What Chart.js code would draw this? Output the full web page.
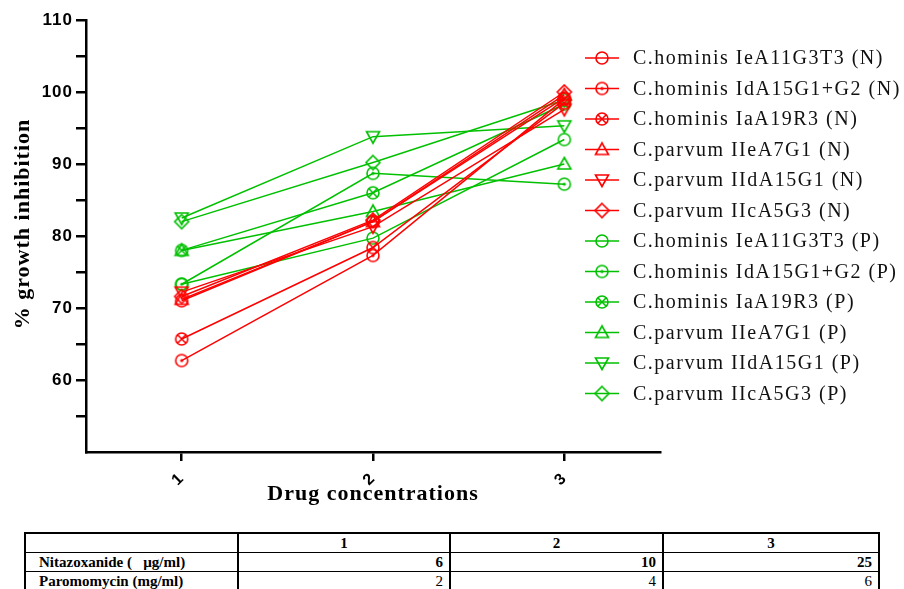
<!DOCTYPE html>
<html>
<head>
<meta charset="utf-8">
<script src="https://cdn.jsdelivr.net/npm/chart.js@4.4.1/dist/chart.umd.min.js"></script>
<style>
  body { margin: 0; background: #fff; width: 904px; height: 589px; overflow: hidden; position: relative; }
  #wrap { position: absolute; left: 0; top: 0; width: 904px; height: 525px; }
  #doses { position: absolute; left: 24px; top: 532px; width: 854px; table-layout: fixed; border-collapse: collapse; border: 2px solid #000; }
  #doses td { font-family: "Liberation Serif", serif; font-size: 15px; color: #000; border: 1px solid #000; border-left-width: 2px; height: 18px; line-height: 18px; padding: 0 6px 0 13px; font-weight: bold; white-space: nowrap; overflow: hidden; }
</style>
</head>
<body>
<div id="wrap"><canvas id="grafik" width="904" height="525"></canvas></div>
<table id="doses"></table>
<script>
// Veriler
const concentrations = [1, 2, 3];
const yTicks = [55, 60, 65, 70, 75, 80, 85, 90, 95, 100, 105, 110];

const hominisIeN  = [71.0, 82.0, 99.2];
const hominisIdN  = [62.7, 77.3, 99.0];
const hominisIaN  = [65.7, 78.4, 98.5];
const parvumIIeN  = [71.2, 82.0, 99.6];
const parvumIIdN  = [72.2, 81.3, 97.6];
const parvumIIcN  = [71.6, 82.2, 100.0];

const hominisIeP  = [73.3, 79.7, 93.4];
const hominisIdP  = [73.3, 88.7, 87.2];
const hominisIaP  = [78.0, 86.0, 98.3];
const parvumIIeP  = [78.0, 83.4, 90.0];
const parvumIIdP  = [82.5, 93.8, 95.3];
const parvumIIcP  = [82.0, 90.2, 98.9];

const tableHead    = ['1', '2', '3'];
const nitazoxanide = [6, 10, 25];
const paromomycin  = [2, 4, 6];

const RED = '#ff0000';
const GREEN = '#00c000';

// Marker çiz
function makeMarker(shape, color) {
    const c = document.createElement('canvas');
    c.width = 18; c.height = 18;
    const g = c.getContext('2d');
    g.translate(9, 9);
    g.strokeStyle = color;
    g.fillStyle = color;
    g.lineWidth = 1.6;
    g.beginPath();
    if (shape === 'circle' || shape === 'circleDot' || shape === 'circleX') {
        g.arc(0, 0, 6, 0, Math.PI * 2);
        g.stroke();
        if (shape === 'circleDot') {
            g.beginPath(); g.arc(0, 0, 1.6, 0, Math.PI * 2); g.fill();
        }
        if (shape === 'circleX') {
            g.beginPath();
            g.moveTo(-4.2, -4.2); g.lineTo(4.2, 4.2);
            g.moveTo(4.2, -4.2); g.lineTo(-4.2, 4.2);
            g.stroke();
        }
    } else if (shape === 'triUp') {
        g.moveTo(0, -6.5); g.lineTo(6.5, 5); g.lineTo(-6.5, 5); g.closePath(); g.stroke();
    } else if (shape === 'triDown') {
        g.moveTo(0, 6.5); g.lineTo(6.5, -5); g.lineTo(-6.5, -5); g.closePath(); g.stroke();
    } else if (shape === 'diamond') {
        g.moveTo(0, -7); g.lineTo(7, 0); g.lineTo(0, 7); g.lineTo(-7, 0); g.closePath(); g.stroke();
    }
    return c;
}

function seri(label, values, color, shape) {
    return {
        label: label,
        data: concentrations.map(function(x, i) { return { x: x, y: values[i] }; }),
        borderColor: color,
        backgroundColor: color,
        borderWidth: 1.5,
        pointStyle: makeMarker(shape, color),
        pointRadius: 6,
        tension: 0
    };
}

const datasets = [
    seri('C.hominis IeA11G3T3 (N)', hominisIeN, RED, 'circle'),
    seri('C.hominis IdA15G1+G2 (N)', hominisIdN, RED, 'circleDot'),
    seri('C.hominis IaA19R3 (N)', hominisIaN, RED, 'circleX'),
    seri('C.parvum IIeA7G1 (N)', parvumIIeN, RED, 'triUp'),
    seri('C.parvum IIdA15G1 (N)', parvumIIdN, RED, 'triDown'),
    seri('C.parvum IIcA5G3 (N)', parvumIIcN, RED, 'diamond'),
    seri('C.hominis IeA11G3T3 (P)', hominisIeP, GREEN, 'circle'),
    seri('C.hominis IdA15G1+G2 (P)', hominisIdP, GREEN, 'circleDot'),
    seri('C.hominis IaA19R3 (P)', hominisIaP, GREEN, 'circleX'),
    seri('C.parvum IIeA7G1 (P)', parvumIIeP, GREEN, 'triUp'),
    seri('C.parvum IIdA15G1 (P)', parvumIIdP, GREEN, 'triDown'),
    seri('C.parvum IIcA5G3 (P)', parvumIIcP, GREEN, 'diamond')
];

// Yazı aralığı biraz geniş
const spacing = {
    id: 'spacing',
    beforeDraw: function(chart) { chart.ctx.letterSpacing = '1px'; }
};

// Sağdaki lejant ve y başlığı
const sideLegend = {
    id: 'sideLegend',
    afterDraw: function(chart) {
        const ctx = chart.ctx;
        ctx.save();
        ctx.letterSpacing = '1.5px';
        ctx.font = '20px "Liberation Serif"';
        ctx.fillStyle = '#111';
        ctx.textBaseline = 'middle';
        chart.data.datasets.forEach(function(ds, i) {
            const y = 58 + i * 30.5;
            ctx.strokeStyle = ds.borderColor;
            ctx.lineWidth = 1.5;
            ctx.beginPath();
            ctx.moveTo(585, y);
            ctx.lineTo(619, y);
            ctx.stroke();
            ctx.drawImage(ds.pointStyle, 602 - 9, y - 9);
            ctx.fillText(ds.label, 633, y + 1);
        });
        ctx.restore();

        ctx.save();
        ctx.letterSpacing = '1px';
        ctx.translate(23, 224);
        ctx.rotate(-Math.PI / 2);
        ctx.font = 'bold 22px "Liberation Serif"';
        ctx.fillStyle = '#000';
        ctx.textAlign = 'center';
        ctx.textBaseline = 'middle';
        ctx.fillText('% growth inhibition', 0, 0);
        ctx.restore();
    }
};

const axisColor = '#000';

new Chart(document.getElementById('grafik'), {
    type: 'line',
    data: { datasets: datasets },
    options: {
        responsive: false,
        animation: false,
        layout: { padding: { top: 20, right: 244, left: 0, bottom: 0 } },
        plugins: { legend: { display: false }, tooltip: { enabled: false } },
        scales: {
            x: {
                type: 'linear',
                min: 0.5,
                max: 3.5,
                afterBuildTicks: function(s) { s.ticks = concentrations.map(function(v) { return { value: v }; }); },
                afterFit: function(s) { s.height = 73; },
                border: { color: axisColor, width: 2.5 },
                grid: { drawOnChartArea: false, color: axisColor, lineWidth: 2.5, tickLength: 9 },
                ticks: {
                    color: '#000',
                    font: { family: 'Liberation Sans', weight: 'bold', size: 16 },
                    minRotation: 45,
                    maxRotation: 45,
                    padding: 8
                },
                title: {
                    display: true,
                    text: 'Drug concentrations',
                    color: '#000',
                    font: { family: 'Liberation Serif', weight: 'bold', size: 22 },
                    padding: { top: 0, bottom: 17 }
                }
            },
            y: {
                min: 50,
                max: 110,
                afterBuildTicks: function(s) { s.ticks = yTicks.map(function(v) { return { value: v }; }); },
                afterFit: function(s) { s.width = 86; },
                border: { color: axisColor, width: 2.5 },
                grid: { drawOnChartArea: false, color: axisColor, lineWidth: 2.5, tickLength: 10 },
                ticks: {
                    color: '#000',
                    font: { family: 'Liberation Sans', weight: 'bold', size: 17 },
                    padding: 3,
                    callback: function(v) { return v % 10 === 0 ? v : ''; }
                },
                title: { display: false }
            }
        }
    },
    plugins: [spacing, sideLegend]
});

// Doz tablosu
function tabloyuKur() {
    const tablo = document.getElementById('doses');
    const widths = [213, 212, 213, 216];
    let html = '<colgroup>';
    widths.forEach(function(w) { html += '<col style="width:' + w + 'px">'; });
    html += '</colgroup><tr><td></td>';
    tableHead.forEach(function(h) {
        html += '<td style="text-align:center;padding:0">' + h + '</td>';
    });
    html += '</tr><tr><td>Nitazoxanide (&nbsp;&nbsp;&nbsp;µg/ml)</td>';
    nitazoxanide.forEach(function(v) { html += '<td style="text-align:right">' + v + '</td>'; });
    html += '</tr><tr><td>Paromomycin (mg/ml)</td>';
    paromomycin.forEach(function(v) { html += '<td style="text-align:right;font-weight:normal">' + v + '</td>'; });
    html += '</tr>';
    tablo.innerHTML = html;
}
tabloyuKur();
</script>
</body>
</html>
